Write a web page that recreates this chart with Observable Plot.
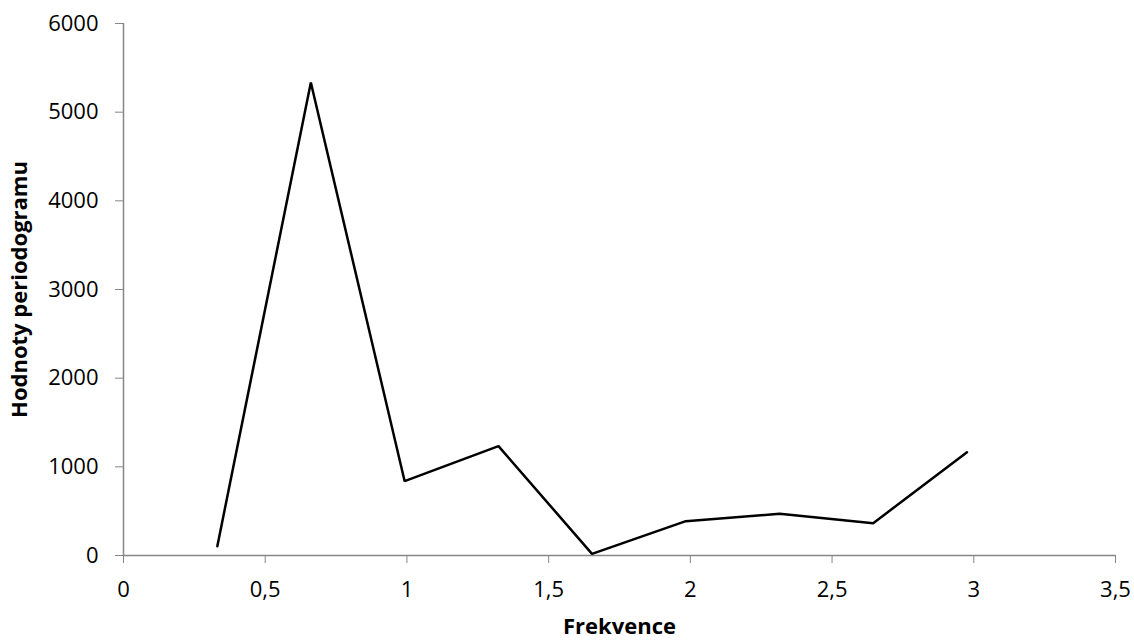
<!DOCTYPE html>
<html>
<head>
<meta charset="utf-8">
<script src="https://cdn.jsdelivr.net/npm/d3@7"></script>
<script src="https://cdn.jsdelivr.net/npm/@observablehq/plot@0.6"></script>
<style>
  html, body { margin: 0; padding: 0; background: #fff; }
</style>
</head>
<body>
<div id="chart"></div>
<script>
// Periodogram values at the Fourier frequencies
const frekvence = [0.331, 0.661, 0.992, 1.323, 1.653, 1.984, 2.315, 2.645, 2.976];
const hodnoty = [105, 5335, 838, 1233, 19, 387, 470, 364, 1165];

const xTicks = [0, 0.5, 1, 1.5, 2, 2.5, 3, 3.5];
const yTicks = [0, 1000, 2000, 3000, 4000, 5000, 6000];
const xTitle = "Frekvence";
const yTitle = "Hodnoty periodogramu";

const data = frekvence.map((f, i) => ({f, v: hodnoty[i]}));
const axisGray = "#868686";
const commaFormat = d => String(d).replace(".", ",");

const chart = Plot.plot({
  width: 1134,
  height: 641,
  marginLeft: 123,
  marginRight: 19,
  marginTop: 23,
  marginBottom: 86,
  style: {fontFamily: "'Open Sans', sans-serif", fontSize: "22px", color: "#000", background: "#fff"},
  x: {domain: [0, 3.5]},
  y: {domain: [0, 6000]},
  marks: [
    Plot.axisX({ticks: xTicks, tickFormat: commaFormat, tickSize: 8, tickPadding: 18, stroke: axisGray, fontSize: 22, label: null}),
    Plot.axisY({ticks: yTicks, tickFormat: d => String(d), tickSize: 8, tickPadding: 17, stroke: axisGray, fontSize: 22, label: null}),
    Plot.ruleY([0], {stroke: axisGray, strokeWidth: 1.5}),
    Plot.ruleX([0], {stroke: axisGray, strokeWidth: 1.5}),
    Plot.line(data, {x: "f", y: "v", stroke: "#000", strokeWidth: 2.5, strokeLinejoin: "miter"}),
    Plot.text([xTitle], {frameAnchor: "bottom", dy: 71, lineAnchor: "middle", fontWeight: "bold", fontSize: 22, fill: "#000"}),
    Plot.text([yTitle], {frameAnchor: "left", dx: -104, rotate: -90, textAnchor: "middle", fontWeight: "bold", fontSize: 22, fill: "#000"})
  ]
});

document.getElementById("chart").appendChild(chart);
</script>
</body>
</html>
